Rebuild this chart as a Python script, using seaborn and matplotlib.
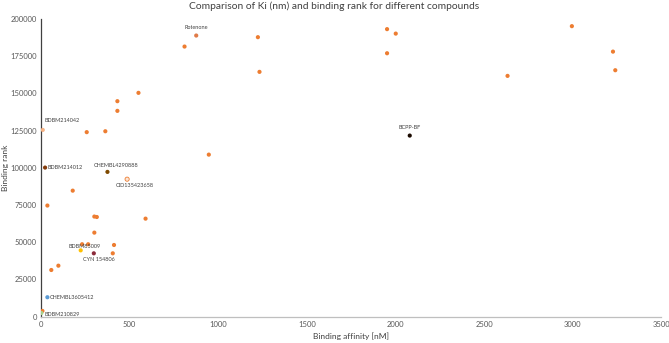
import numpy as np
import pandas as pd
import seaborn as sns
import matplotlib
matplotlib.use("Agg")
import matplotlib.pyplot as plt

# values
affinity = [876, 810, 1224, 1233, 550, 431, 431, 10, 258, 363, 947, 23,
            1953, 2002, 1953, 2996, 3228, 3241, 2633, 2081,
            375, 486, 179, 36, 301, 315, 590, 301, 232, 266, 412, 224,
            298, 405, 58, 98, 36, 8, 2]
rank = [188800, 181400, 187700, 164400, 150300, 144700, 138200, 125400, 123900,
        124500, 108800, 100100,
        193100, 190100, 176900, 195100, 178000, 165500, 161700, 121600,
        97200, 92300, 84600, 74600, 67200, 66900, 65800, 56400, 48600, 48600,
        48100, 44500, 42500, 42500, 31300, 34200, 13000, 3800, 2400]
labels = ["Rotenone", "", "", "", "", "", "", "BDBM214042", "", "", "", "BDBM214012",
          "", "", "", "", "", "", "", "BCPP-BF",
          "CHEMBL4290888", "CID135423658", "", "", "", "", "", "", "", "", "",
          "BDBM85009", "CYN 154806", "", "", "", "CHEMBL3605412", "", "BDBM210829"]

orange = "#ED7D31"
special = {
    "Rotenone": "#E07B48",
    "BDBM214042": "#F4B183",
    "BDBM214012": "#843C0C",
    "BCPP-BF": "#1A0A00",
    "CHEMBL4290888": "#7F4A00",
    "CID135423658": "#FBE5D6",
    "BDBM85009": "#FFC000",
    "CYN 154806": "#8B2A3A",
    "CHEMBL3605412": "#5B9BD5",
    "BDBM210829": "#A9D18E",
}

# text offsets in points, with alignment
label_pos = {
    "Rotenone": (0, 4, "center", "bottom"),
    "BDBM214042": (1, 5, "left", "bottom"),
    "BDBM214012": (2, 0, "left", "center"),
    "CHEMBL4290888": (6, 3, "center", "bottom"),
    "CID135423658": (-8, -3, "left", "top"),
    "BCPP-BF": (0, 4, "center", "bottom"),
    "BDBM85009": (-9, 1, "left", "bottom"),
    "CYN 154806": (-8, -3, "left", "top"),
    "CHEMBL3605412": (2, 0, "left", "center"),
    "BDBM210829": (2, -1, "left", "center"),
}

df = pd.DataFrame({"affinity": affinity, "rank": rank,
                   "name": [l if l else f"pt{i}" for i, l in enumerate(labels)]})
palette = {n: special.get(n, orange) for n in df["name"]}
edges = ["#ED7D31" if n == "CID135423658" else "none" for n in df["name"]]

sns.set_style("white")
plt.rcParams['font.family'] = ['Lato', 'DejaVu Sans']

fig = plt.figure(figsize=(6.69, 3.43), dpi=100)
ax = fig.add_axes([0.0613, 0.077, 0.927, 0.868])
sns.scatterplot(data=df, x="affinity", y="rank", hue="name", palette=palette,
                s=9, linewidth=0.6, edgecolor=edges, legend=False, ax=ax, zorder=3)

for a, r, l in zip(affinity, rank, labels):
    if not l:
        continue
    dx, dy, ha, va = label_pos[l]
    ax.annotate(l, (a, r), xytext=(dx, dy), textcoords="offset points",
                ha=ha, va=va, fontsize=4, color="#404040")

ax.set_xlim(0, 3500)
ax.set_ylim(0, 200000)
ax.set_xticks(np.arange(0, 3501, 500))
ax.set_yticks(np.arange(0, 200001, 25000))
ax.tick_params(axis="both", length=0, labelsize=5.5, labelcolor="#595959", pad=3)
for s in ["top", "right"]:
    ax.spines[s].set_visible(False)
ax.spines["left"].set_color("#404040")
ax.spines["left"].set_linewidth(0.9)
ax.spines["bottom"].set_color("#BFBFBF")
ax.spines["bottom"].set_linewidth(0.9)

ax.set_xlabel("Binding affinity [nM]", fontsize=6, color="#404040", labelpad=3)
ax.set_ylabel("Binding rank", fontsize=6, color="#404040")
ax.yaxis.set_label_coords(-0.051, 0.5)
fig.suptitle("Comparison of Ki (nm) and binding rank for different compounds",
             fontsize=7.4, color="#404040", x=0.5, y=0.995, va="top")

fig.savefig("out.png", dpi=100)
